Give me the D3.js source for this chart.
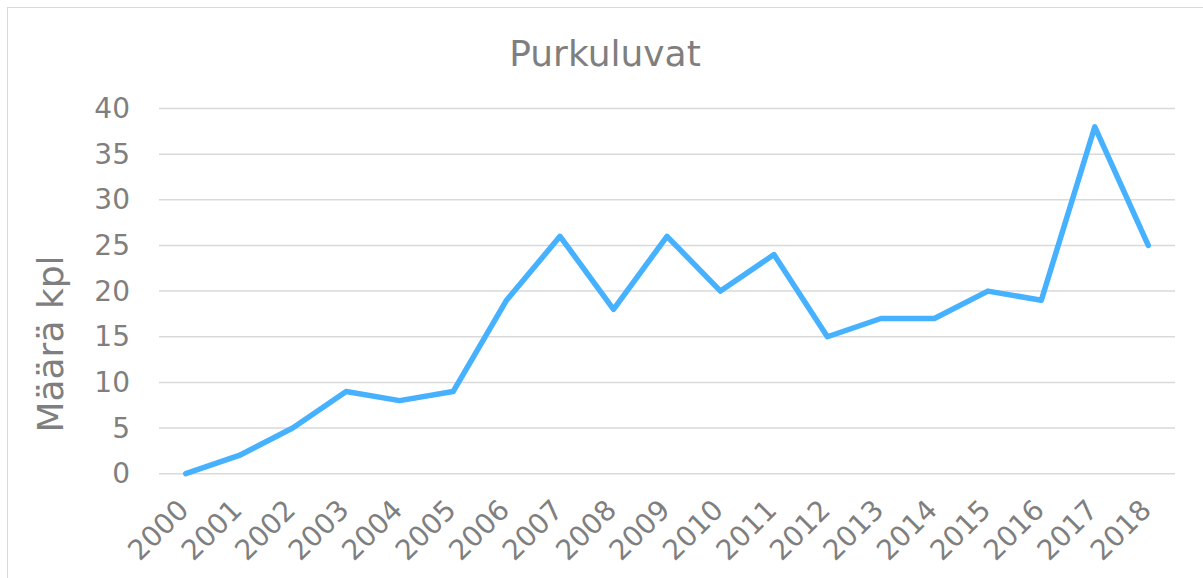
<!DOCTYPE html>
<html>
<head>
<meta charset="utf-8">
<script src="https://cdn.jsdelivr.net/npm/d3@7"></script>
<style>
  body { margin: 0; background: #fff; }
  svg text { font-family: "DejaVu Sans", Verdana, sans-serif; fill: #7f7f7f; }
  .axis path, .axis line { display: none; }
  .grid line { stroke: #d9d9d9; stroke-width: 1.5; }
</style>
</head>
<body>
<svg id="chart"></svg>
<script>
let years = ["2000", "2001", "2002", "2003", "2004", "2005", "2006", "2007", "2008", "2009",
             "2010", "2011", "2012", "2013", "2014", "2015", "2016", "2017", "2018"];
let counts = [0, 2, 5, 9, 8, 9, 19, 26, 18, 26, 20, 24, 15, 17, 17, 20, 19, 38, 25];
let yTicks = [0, 5, 10, 15, 20, 25, 30, 35, 40];

let config = {
  'svg': {},
  'margin': {},
  'plot': {}
};

config.svg.width = 1203;
config.svg.height = 578;

config.margin.top = 108.5;
config.margin.left = 159;
config.margin.right = 28;
config.margin.bottom = 104.3;

config.plot.x = config.margin.left;
config.plot.y = config.margin.top;
config.plot.width = config.svg.width - config.margin.left - config.margin.right;
config.plot.height = config.svg.height - config.margin.top - config.margin.bottom;

let svg = d3.select("svg#chart");
svg.attr('width', config.svg.width);
svg.attr('height', config.svg.height);

// chart border (cropped at right and bottom like the original)
svg.append("rect")
  .attr("x", 7.5)
  .attr("y", 7.5)
  .attr("width", 1220)
  .attr("height", 600)
  .attr("fill", "none")
  .attr("stroke", "#d9d9d9")
  .attr("stroke-width", 1);

let plot = svg.append('g');
plot.attr('id', 'plot');
plot.attr('transform', translate(config.plot.x, config.plot.y));

let scale = {};

scale.x = d3.scalePoint()
  .domain(years)
  .range([0, config.plot.width])
  .padding(0.5);

scale.y = d3.scaleLinear()
  .domain([0, 40])
  .range([config.plot.height, 0]);

// gridlines
plot.append("g")
  .attr("class", "grid")
  .selectAll("line")
  .data(yTicks)
  .enter()
  .append("line")
  .attr("x1", 0)
  .attr("x2", config.plot.width)
  .attr("y1", d => scale.y(d))
  .attr("y2", d => scale.y(d));

let axis = {};

axis.y = d3.axisLeft(scale.y)
  .tickValues(yTicks)
  .tickSize(0)
  .tickPadding(29);

let gy = svg.append("g")
  .attr("class", "axis")
  .attr("transform", translate(config.plot.x, config.plot.y))
  .call(axis.y);

gy.selectAll("text")
  .attr("font-size", "28px")
  .style("font-family", null);

axis.x = d3.axisBottom(scale.x)
  .tickSize(0)
  .tickPadding(0);

let gx = svg.append("g")
  .attr("class", "axis")
  .attr("transform", translate(config.plot.x, config.plot.y + config.plot.height))
  .call(axis.x);

gx.selectAll("text")
  .attr("font-size", "28px")
  .attr("text-anchor", "end")
  .attr("dy", null)
  .attr("y", null)
  .attr("transform", "translate(4,38) rotate(-45)")
  .style("font-family", null);

// the line
let line = d3.line()
  .x((d, i) => scale.x(years[i]))
  .y(d => scale.y(d));

plot.append("path")
  .datum(counts)
  .attr("d", line)
  .attr("fill", "none")
  .attr("stroke", "#45b1ff")
  .attr("stroke-width", 5.5)
  .attr("stroke-linejoin", "round")
  .attr("stroke-linecap", "round");

drawTitles();

function drawTitles() {
  svg.append("text")
    .text("Purkuluvat")
    .attr("x", 605)
    .attr("y", 66)
    .attr("text-anchor", "middle")
    .attr("font-size", "36px");

  svg.append("text")
    .text("Määrä kpl")
    .attr("text-anchor", "middle")
    .attr("transform", translate(63, 344) + " rotate(-90)")
    .attr("font-size", "36px");
}

function translate(x, y) {
  return 'translate(' + x + ',' + y + ')';
}
</script>
</body>
</html>
